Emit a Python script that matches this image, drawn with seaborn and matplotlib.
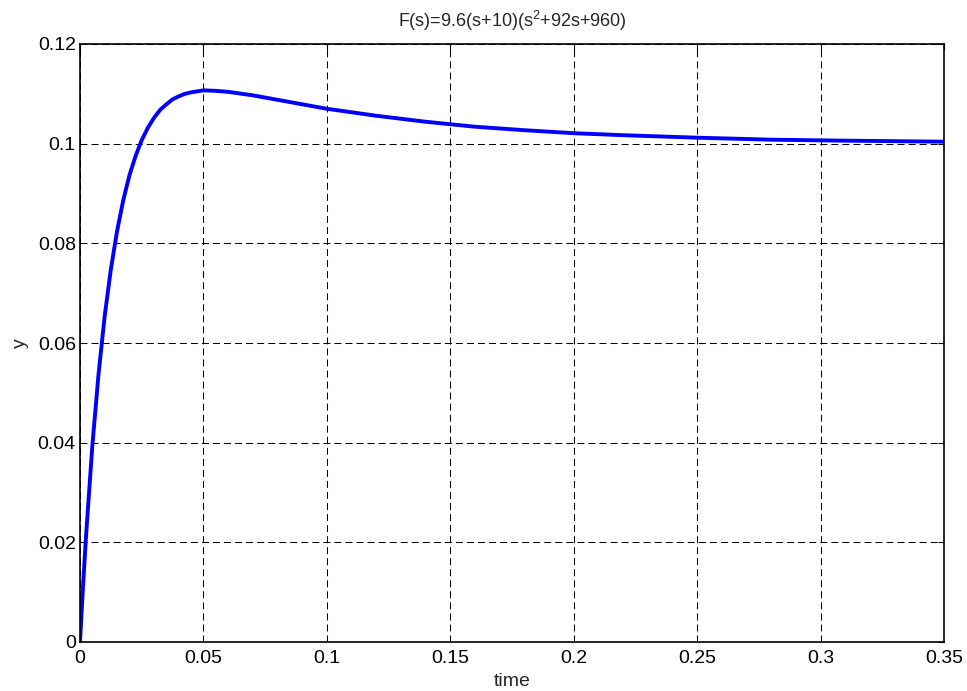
import matplotlib
matplotlib.use("Agg")
import matplotlib.pyplot as plt
import seaborn as sns
import pandas as pd

# Values
time = [0.0, 0.00125, 0.0025, 0.005, 0.0075, 0.01, 0.0125, 0.015, 0.0175, 0.02, 0.0225,
        0.025, 0.0275, 0.03, 0.0325, 0.035, 0.0375, 0.04, 0.0425, 0.045, 0.05, 0.055,
        0.06, 0.07, 0.08, 0.09, 0.10, 0.12, 0.14, 0.16, 0.18, 0.20, 0.22, 0.25, 0.28,
        0.31, 0.35]
y = [0.0, 0.0114, 0.0217, 0.0394, 0.0537, 0.0654, 0.0748, 0.0824, 0.0886, 0.0936, 0.0975,
     0.1007, 0.1032, 0.1052, 0.1068, 0.1079, 0.1089, 0.1095, 0.1100, 0.1103, 0.1107, 0.1106,
     0.1104, 0.1097, 0.1088, 0.1079, 0.1070, 0.1056, 0.1044, 0.1034, 0.1027, 0.1021, 0.1017,
     0.1012, 0.1008, 0.1006, 0.1004]

x_ticks = [0, 0.05, 0.1, 0.15, 0.2, 0.25, 0.3, 0.35]
x_tick_labels = ["0", "0.05", "0.1", "0.15", "0.2", "0.25", "0.3", "0.35"]
y_ticks = [0, 0.02, 0.04, 0.06, 0.08, 0.1, 0.12]
y_tick_labels = ["0", "0.02", "0.04", "0.06", "0.08", "0.1", "0.12"]

title = "F(s)=9.6(s+10)(s$^2$+92s+960)"

sns.set_theme(style="white")
plt.rcParams["font.family"] = ["Liberation Sans", "DejaVu Sans"]
plt.rcParams["mathtext.fontset"] = "custom"
plt.rcParams["mathtext.rm"] = "Liberation Sans"
plt.rcParams["mathtext.it"] = "Liberation Sans"
plt.rcParams["mathtext.bf"] = "Liberation Sans"
plt.rcParams["mathtext.default"] = "regular"

df = pd.DataFrame({"time": time, "y": y})

fig = plt.figure(figsize=(9.67, 6.91), dpi=100)
ax = fig.add_axes([80 / 967, (691 - 642) / 691, (944 - 80) / 967, (642 - 44) / 691])

sns.lineplot(data=df, x="time", y="y", ax=ax, color="#0000ff", linewidth=2.8)

ax.set_xlim(0, 0.35)
ax.set_ylim(0, 0.12)
ax.set_xticks(x_ticks)
ax.set_xticklabels(x_tick_labels)
ax.set_yticks(y_ticks)
ax.set_yticklabels(y_tick_labels)

ax.grid(True, color="black", linestyle=(0, (6.7, 3.9)), linewidth=0.75)
ax.tick_params(axis="both", direction="in", length=4, width=0.8, colors="black",
               labelsize=14, top=True, right=True)
ax.tick_params(axis="x", pad=6)
ax.tick_params(axis="y", pad=3)
for s in ax.spines.values():
    s.set_color("black")
    s.set_linewidth(1.2)

ax.set_xlabel("time", fontsize=14, labelpad=4)
ax.set_ylabel("y", fontsize=14, labelpad=6)
ax.set_title(title, fontsize=13, pad=12)

fig.savefig("out.png", dpi=100, facecolor="white")
